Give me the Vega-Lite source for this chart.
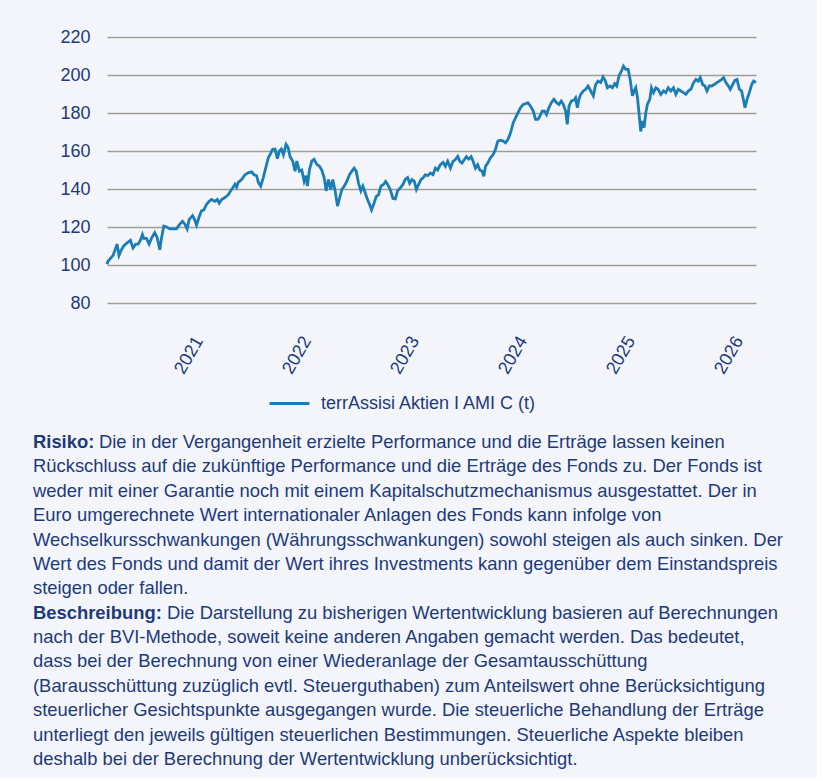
{
  "$schema": "https://vega.github.io/schema/vega-lite/v6.json",
  "background": "#f3f5fb",
  "padding": {"left": 33, "top": 28, "right": 34, "bottom": 9},
  "config": {
    "font": "Liberation Sans",
    "view": {"stroke": null},
    "concat": {"spacing": 56}
  },
  "datasets": {
    "series": [
      {"t":2020.335,"v":100.4},{"t":2020.344,"v":102},{"t":2020.375,"v":104},{"t":2020.391,"v":105},{"t":2020.416,"v":109},{"t":2020.428,"v":111},{"t":2020.446,"v":105},{"t":2020.468,"v":108},{"t":2020.490,"v":110},{"t":2020.508,"v":111},{"t":2020.530,"v":112},{"t":2020.552,"v":113},{"t":2020.576,"v":109},{"t":2020.601,"v":111},{"t":2020.623,"v":111},{"t":2020.644,"v":113},{"t":2020.663,"v":116},{"t":2020.675,"v":114},{"t":2020.700,"v":114},{"t":2020.725,"v":111},{"t":2020.746,"v":114},{"t":2020.777,"v":117},{"t":2020.799,"v":114.5},{"t":2020.824,"v":108},{"t":2020.839,"v":114},{"t":2020.861,"v":120.5},{"t":2020.886,"v":120},{"t":2020.917,"v":119},{"t":2020.947,"v":119},{"t":2020.978,"v":119},
      {"t":2021.009,"v":121.5},{"t":2021.034,"v":123},{"t":2021.056,"v":121.5},{"t":2021.077,"v":119},{"t":2021.096,"v":124},{"t":2021.127,"v":126},{"t":2021.145,"v":124},{"t":2021.164,"v":121},{"t":2021.186,"v":125},{"t":2021.210,"v":128.5},{"t":2021.232,"v":129},{"t":2021.257,"v":132},{"t":2021.281,"v":133.5},{"t":2021.303,"v":134.5},{"t":2021.334,"v":133.5},{"t":2021.356,"v":134.5},{"t":2021.374,"v":132.5},{"t":2021.396,"v":134.5},{"t":2021.427,"v":135.5},{"t":2021.458,"v":137},{"t":2021.479,"v":139},{"t":2021.504,"v":141},{"t":2021.519,"v":142.5},{"t":2021.535,"v":141},{"t":2021.550,"v":143.5},{"t":2021.581,"v":145},{"t":2021.612,"v":147.5},{"t":2021.643,"v":148.5},{"t":2021.674,"v":149},{"t":2021.696,"v":147.5},{"t":2021.720,"v":147},{"t":2021.736,"v":143.5},{"t":2021.758,"v":141.5},{"t":2021.782,"v":146},{"t":2021.804,"v":151},{"t":2021.829,"v":156.5},{"t":2021.844,"v":158},{"t":2021.869,"v":161},{"t":2021.891,"v":161},{"t":2021.912,"v":156},{"t":2021.931,"v":160},{"t":2021.949,"v":161},{"t":2021.968,"v":158},{"t":2021.993,"v":163.5},
      {"t":2022.011,"v":162},{"t":2022.030,"v":157},{"t":2022.054,"v":154.7},{"t":2022.076,"v":149.4},{"t":2022.092,"v":154.7},{"t":2022.116,"v":149.4},{"t":2022.138,"v":150},{"t":2022.160,"v":144},{"t":2022.178,"v":147},{"t":2022.190,"v":141.5},{"t":2022.209,"v":150},{"t":2022.231,"v":154.7},{"t":2022.252,"v":155.6},{"t":2022.277,"v":153},{"t":2022.302,"v":152},{"t":2022.323,"v":150},{"t":2022.345,"v":146},{"t":2022.364,"v":139},{"t":2022.385,"v":145},{"t":2022.407,"v":139.7},{"t":2022.425,"v":145},{"t":2022.447,"v":139},{"t":2022.469,"v":131},{"t":2022.487,"v":135},{"t":2022.509,"v":139.7},{"t":2022.531,"v":141.5},{"t":2022.555,"v":144},{"t":2022.580,"v":147.6},{"t":2022.602,"v":149.4},{"t":2022.623,"v":151},{"t":2022.642,"v":149.4},{"t":2022.664,"v":143},{"t":2022.685,"v":139},{"t":2022.704,"v":141.5},{"t":2022.725,"v":138},{"t":2022.747,"v":134.4},{"t":2022.766,"v":131.8},{"t":2022.784,"v":129},{"t":2022.803,"v":131.8},{"t":2022.827,"v":136},{"t":2022.849,"v":137},{"t":2022.871,"v":141.5},{"t":2022.895,"v":142.4},{"t":2022.914,"v":144},{"t":2022.933,"v":142.4},{"t":2022.957,"v":139.7},{"t":2022.982,"v":135},
      {"t":2023.004,"v":134.8},{"t":2023.025,"v":139},{"t":2023.050,"v":140.6},{"t":2023.075,"v":142.4},{"t":2023.096,"v":145},{"t":2023.118,"v":146},{"t":2023.137,"v":143},{"t":2023.158,"v":145},{"t":2023.180,"v":144},{"t":2023.199,"v":139.7},{"t":2023.220,"v":142.4},{"t":2023.242,"v":145},{"t":2023.260,"v":145.8},{"t":2023.282,"v":147.5},{"t":2023.304,"v":147},{"t":2023.328,"v":148.4},{"t":2023.353,"v":147.5},{"t":2023.375,"v":151},{"t":2023.396,"v":150},{"t":2023.421,"v":152.8},{"t":2023.446,"v":154},{"t":2023.468,"v":152},{"t":2023.489,"v":154.6},{"t":2023.514,"v":151},{"t":2023.539,"v":154.6},{"t":2023.560,"v":155.5},{"t":2023.582,"v":157.2},{"t":2023.601,"v":154.6},{"t":2023.622,"v":153.7},{"t":2023.644,"v":155.5},{"t":2023.662,"v":157},{"t":2023.684,"v":155.8},{"t":2023.706,"v":157},{"t":2023.724,"v":154.6},{"t":2023.746,"v":151},{"t":2023.767,"v":152.8},{"t":2023.786,"v":150},{"t":2023.808,"v":149.3},{"t":2023.823,"v":146.7},{"t":2023.839,"v":152},{"t":2023.860,"v":153.7},{"t":2023.885,"v":156.4},{"t":2023.910,"v":158.1},{"t":2023.931,"v":160.8},{"t":2023.953,"v":165.2},{"t":2023.978,"v":165.7},
      {"t":2024.002,"v":165.2},{"t":2024.024,"v":164.3},{"t":2024.046,"v":166},{"t":2024.071,"v":169.6},{"t":2024.095,"v":174.8},{"t":2024.117,"v":177.5},{"t":2024.139,"v":180},{"t":2024.163,"v":182.8},{"t":2024.188,"v":184.5},{"t":2024.210,"v":184.9},{"t":2024.231,"v":185.4},{"t":2024.256,"v":183.6},{"t":2024.281,"v":181},{"t":2024.302,"v":176.6},{"t":2024.324,"v":176.6},{"t":2024.343,"v":178.4},{"t":2024.364,"v":181},{"t":2024.386,"v":181},{"t":2024.404,"v":179.2},{"t":2024.426,"v":182.8},{"t":2024.448,"v":185.4},{"t":2024.472,"v":187.2},{"t":2024.497,"v":185.4},{"t":2024.519,"v":184.5},{"t":2024.540,"v":186.3},{"t":2024.559,"v":184.5},{"t":2024.581,"v":181},{"t":2024.596,"v":174},{"t":2024.612,"v":183.6},{"t":2024.633,"v":186.3},{"t":2024.658,"v":186.8},{"t":2024.673,"v":188},{"t":2024.689,"v":182.8},{"t":2024.704,"v":187.2},{"t":2024.720,"v":189.8},{"t":2024.745,"v":191.6},{"t":2024.766,"v":192.5},{"t":2024.788,"v":194.2},{"t":2024.813,"v":191.6},{"t":2024.837,"v":189},{"t":2024.859,"v":195},{"t":2024.881,"v":196.8},{"t":2024.905,"v":196},{"t":2024.927,"v":199},{"t":2024.949,"v":196.8},{"t":2024.967,"v":193.3},{"t":2024.992,"v":194.2},
      {"t":2025.014,"v":193.3},{"t":2025.035,"v":195.4},{"t":2025.054,"v":194.2},{"t":2025.075,"v":199.5},{"t":2025.097,"v":202},{"t":2025.116,"v":204.7},{"t":2025.137,"v":203},{"t":2025.159,"v":203},{"t":2025.178,"v":197.7},{"t":2025.199,"v":189},{"t":2025.215,"v":191.6},{"t":2025.230,"v":193.3},{"t":2025.246,"v":188},{"t":2025.261,"v":179.3},{"t":2025.276,"v":170.3},{"t":2025.292,"v":175.8},{"t":2025.307,"v":172.3},{"t":2025.323,"v":180.2},{"t":2025.338,"v":184.6},{"t":2025.360,"v":187.2},{"t":2025.375,"v":193.3},{"t":2025.394,"v":190.7},{"t":2025.416,"v":193.3},{"t":2025.437,"v":192.5},{"t":2025.462,"v":189.8},{"t":2025.487,"v":191.6},{"t":2025.508,"v":190.7},{"t":2025.530,"v":193.3},{"t":2025.555,"v":191.6},{"t":2025.579,"v":193.3},{"t":2025.601,"v":189.8},{"t":2025.623,"v":192.5},{"t":2025.647,"v":191.6},{"t":2025.672,"v":190.7},{"t":2025.694,"v":189.8},{"t":2025.716,"v":191.6},{"t":2025.740,"v":192.5},{"t":2025.765,"v":196},{"t":2025.787,"v":197.7},{"t":2025.808,"v":196.8},{"t":2025.827,"v":198.6},{"t":2025.849,"v":195},{"t":2025.870,"v":194.2},{"t":2025.889,"v":191.6},{"t":2025.910,"v":194.2},{"t":2025.932,"v":194.2},{"t":2025.957,"v":195},{"t":2025.981,"v":196},
      {"t":2026.003,"v":196.8},{"t":2026.025,"v":197.7},{"t":2026.043,"v":198.6},{"t":2026.065,"v":196},{"t":2026.087,"v":194.2},{"t":2026.105,"v":192.5},{"t":2026.127,"v":195},{"t":2026.148,"v":197.2},{"t":2026.167,"v":197.7},{"t":2026.189,"v":192.5},{"t":2026.210,"v":191.6},{"t":2026.229,"v":186.3},{"t":2026.241,"v":182.8},{"t":2026.260,"v":187.2},{"t":2026.281,"v":190.7},{"t":2026.303,"v":195},{"t":2026.321,"v":196.8},{"t":2026.343,"v":196}
    ],
    "notes": [
      {"line":1,"kind":"head","text":"Risiko:"},
      {"line":1,"kind":"first1","text":"Die in der Vergangenheit erzielte Performance und die Erträge lassen keinen"},
      {"line":2,"kind":"body","text":"Rückschluss auf die zukünftige Performance und die Erträge des Fonds zu. Der Fonds ist"},
      {"line":3,"kind":"body","text":"weder mit einer Garantie noch mit einem Kapitalschutzmechanismus ausgestattet. Der in"},
      {"line":4,"kind":"body","text":"Euro umgerechnete Wert internationaler Anlagen des Fonds kann infolge von"},
      {"line":5,"kind":"body","text":"Wechselkursschwankungen (Währungsschwankungen) sowohl steigen als auch sinken. Der"},
      {"line":6,"kind":"body","text":"Wert des Fonds und damit der Wert ihres Investments kann gegenüber dem Einstandspreis"},
      {"line":7,"kind":"body","text":"steigen oder fallen."},
      {"line":8,"kind":"head","text":"Beschreibung:"},
      {"line":8,"kind":"first2","text":"Die Darstellung zu bisherigen Wertentwicklung basieren auf Berechnungen"},
      {"line":9,"kind":"body","text":"nach der BVI-Methode, soweit keine anderen Angaben gemacht werden. Das bedeutet,"},
      {"line":10,"kind":"body","text":"dass bei der Berechnung von einer Wiederanlage der Gesamtausschüttung"},
      {"line":11,"kind":"body","text":"(Barausschüttung zuzüglich evtl. Steuerguthaben) zum Anteilswert ohne Berücksichtigung"},
      {"line":12,"kind":"body","text":"steuerlicher Gesichtspunkte ausgegangen wurde. Die steuerliche Behandlung der Erträge"},
      {"line":13,"kind":"body","text":"unterliegt den jeweils gültigen steuerlichen Bestimmungen. Steuerliche Aspekte bleiben"},
      {"line":14,"kind":"body","text":"deshalb bei der Berechnung der Wertentwicklung unberücksichtigt."}
    ]
  },
  "vconcat": [
    {
      "width": 649,
      "height": 266,
      "data": {"name": "series"},
      "mark": {"type": "line", "strokeWidth": 2.8, "interpolate": "linear"},
      "encoding": {
        "x": {
          "field": "t", "type": "quantitative",
          "scale": {"domain": [2020.335, 2026.343], "nice": false, "zero": false},
          "axis": {
            "title": null, "values": [2021, 2022, 2023, 2024, 2025, 2026], "format": "d",
            "domain": false, "ticks": false, "grid": false,
            "labelAngle": -60, "labelAlign": "center", "labelBaseline": "middle",
            "labelPadding": 52, "labelOffset": 10, "labelFontSize": 18,
            "labelColor": "#1d3a7a", "labelFlush": false, "labelOverlap": false
          }
        },
        "y": {
          "field": "v", "type": "quantitative",
          "scale": {"domain": [80, 220], "nice": false, "zero": false},
          "axis": {
            "title": null, "values": [80, 100, 120, 140, 160, 180, 200, 220],
            "domain": false, "ticks": false, "grid": true,
            "gridColor": "#a09e95", "gridWidth": 1.6, "gridOpacity": 1,
            "labelFontSize": 18, "labelColor": "#1d3a7a", "labelPadding": 17,
            "minExtent": 74, "maxExtent": 74
          }
        },
        "color": {
          "datum": "terrAssisi Aktien I AMI C (t)",
          "scale": {"range": ["#1a7db6"]},
          "legend": {
            "title": null, "orient": "none", "legendX": 161, "legendY": 345,
            "symbolType": "stroke", "symbolSize": 1600, "symbolStrokeWidth": 3,
            "labelFontSize": 18, "labelColor": "#1d3a7a", "labelOffset": 10,
            "labelLimit": 0, "padding": 0
          }
        }
      }
    },
    {
      "width": 649,
      "height": 317,
      "data": {"name": "notes"},
      "encoding": {
        "y": {"field": "line", "type": "quantitative", "scale": {"domain": [1, 14], "reverse": true, "nice": false, "zero": false}, "axis": null},
        "x": {"value": 0},
        "text": {"field": "text"}
      },
      "layer": [
        {
          "transform": [{"filter": "datum.kind === 'head'"}],
          "mark": {"type": "text", "align": "left", "baseline": "middle", "fontSize": 18.4, "fontWeight": "bold", "dx": -74, "color": "#1d3a7a"}
        },
        {
          "transform": [{"filter": "datum.kind === 'first1'"}],
          "mark": {"type": "text", "align": "left", "baseline": "middle", "fontSize": 18.4, "dx": -8, "color": "#1d3a7a"}
        },
        {
          "transform": [{"filter": "datum.kind === 'first2'"}],
          "mark": {"type": "text", "align": "left", "baseline": "middle", "fontSize": 18.4, "dx": 60, "color": "#1d3a7a"}
        },
        {
          "transform": [{"filter": "datum.kind === 'body'"}],
          "mark": {"type": "text", "align": "left", "baseline": "middle", "fontSize": 18.4, "dx": -74, "color": "#1d3a7a"}
        }
      ]
    }
  ]
}
